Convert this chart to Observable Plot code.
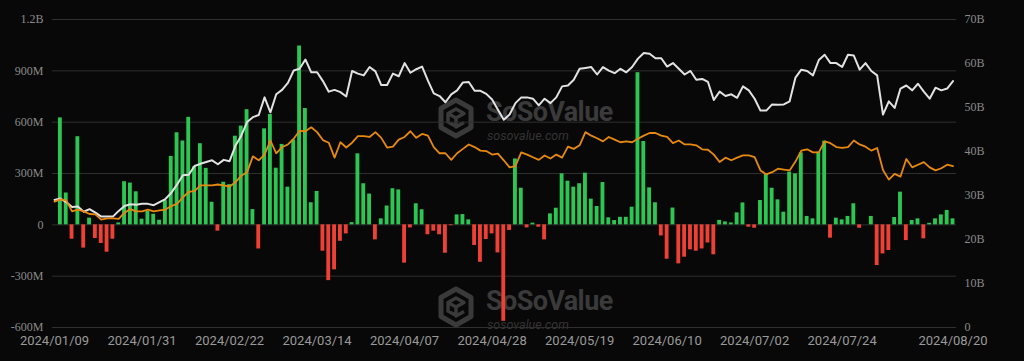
<!DOCTYPE html>
<html>
<head>
<meta charset="utf-8">
<script src="https://cdn.jsdelivr.net/npm/d3@7"></script>
<script src="https://cdn.jsdelivr.net/npm/@observablehq/plot@0.6"></script>
<style>
  html, body { margin: 0; padding: 0; background: #080808; }
  #wrap { position: relative; width: 1024px; height: 361px; overflow: hidden; background: #080808; }
  #chart { position: absolute; left: 0; top: 0; z-index: 1; }
  .wm { position: absolute; z-index: 0; font-family: Roboto, "Open Sans", sans-serif; }
  .wm .name { position: absolute; left: 49px; top: -1.5px; font-size: 27px; line-height: 24px; height: 24px; font-weight: 700; letter-spacing: -0.6px; color: #3a3a3a; white-space: nowrap; }
  .wm .url { position: absolute; left: 50px; top: 27.5px; font-size: 12.5px; line-height: 13px; height: 13px; font-style: italic; color: #343434; white-space: nowrap; }
</style>
</head>
<body>
<div id="wrap">
  <div class="wm" style="left:437px; top:101px;">
    <svg width="38" height="42" viewBox="0 0 38 42" style="position:absolute;left:0;top:-4px">
      <path d="M19 3 L34 11.5 L34 30.5 L19 39 L4 30.5 L4 11.5 Z" fill="none" stroke="#3a3a3a" stroke-width="5" stroke-linejoin="round"/>
      <path d="M19 12 L27 16.5 L19 21 L11 16.5 Z M11 16.5 L11 25 L19 29.5 M27 25.5 L19 30 L19 21" fill="none" stroke="#3a3a3a" stroke-width="3.5" stroke-linejoin="round"/>
    </svg>
    <div class="name">SoSoValue</div>
    <div class="url">sosovalue.com</div>
  </div>
  <div class="wm" style="left:437px; top:290px;">
    <svg width="38" height="42" viewBox="0 0 38 42" style="position:absolute;left:0;top:-4px">
      <path d="M19 3 L34 11.5 L34 30.5 L19 39 L4 30.5 L4 11.5 Z" fill="none" stroke="#3a3a3a" stroke-width="5" stroke-linejoin="round"/>
      <path d="M19 12 L27 16.5 L19 21 L11 16.5 Z M11 16.5 L11 25 L19 29.5 M27 25.5 L19 30 L19 21" fill="none" stroke="#3a3a3a" stroke-width="3.5" stroke-linejoin="round"/>
    </svg>
    <div class="name">SoSoValue</div>
    <div class="url">sosovalue.com</div>
  </div>
  <div id="chart"></div>
</div>
<script>
// Daily total net inflow (million USD); index 0 has no bar
const netInflowM = [null,
  625,186,-84,515,-136,39,-80,-109,-160,-84,
  11,252,244,193,33,78,62,27,142,400,
  538,490,628,340,474,330,132,-37,249,235,
  518,577,673,89,-141,561,645,331,470,220,
  495,1045,680,129,195,-154,-326,-263,-96,-53,
  13,415,240,180,-88,35,110,211,204,-224,
  -18,123,88,-58,-37,-58,-166,-5,58,60,
  29,-121,-219,-86,-53,-164,-564,-33,385,214,
  -18,10,-14,-88,64,97,298,255,220,240,
  302,150,107,247,41,25,44,44,103,889,
  487,216,129,-65,-201,98,-228,-189,-146,-154,
  -141,-106,-175,26,17,11,70,128,-14,-20,
  142,298,214,146,74,308,298,421,49,35,
  425,489,-78,39,29,49,123,-20,0,49,
  -238,-170,-150,43,191,-92,25,35,-82,9,
  35,58,84,35];

// Total net assets (billion USD, right axis)
const totalNetAssetsB = [
  29.0,29.3,28.5,27.4,27.5,26.3,26.9,26.1,25.2,25.2,
  25.2,26.5,27.6,28.0,27.9,28.1,28.1,27.8,28.5,29.2,
  30.6,32.5,34.6,34.7,36.7,37.2,37.6,38.0,37.1,38.1,
  37.8,41.3,43.6,46.7,47.8,48.3,52.3,48.9,53.0,54.0,
  55.6,58.4,58.8,60.9,58.0,58.0,56.0,53.6,54.0,53.5,
  52.5,58.3,57.7,57.3,59.2,58.2,55.1,55.1,57.7,57.1,
  60.1,57.9,58.7,59.3,56.1,53.2,52.6,51.2,53.0,53.9,
  55.7,55.8,53.8,53.8,53.1,51.8,49.5,47.2,48.4,51.0,
  52.3,52.3,52.0,50.5,52.0,51.0,52.3,54.8,55.0,56.3,
  58.8,59.0,59.2,57.5,59.2,58.4,57.8,58.8,58.0,59.2,
  61.1,62.4,62.2,61.2,61.2,59.3,60.1,58.8,57.5,58.3,
  56.3,56.5,55.8,51.7,53.6,52.6,53.0,52.2,54.8,53.9,
  52.0,49.3,49.3,50.7,50.6,50.7,51.4,56.8,58.6,58.3,
  57.3,60.8,62.0,60.1,60.1,59.2,62.0,61.8,58.6,60.1,
  58.3,57.3,48.4,51.4,49.9,54.3,55.0,53.9,55.4,53.6,
  52.0,54.5,53.9,54.3,56.0];

// Orange line (right-axis units, billion)
const orangeLineB = [
  28.6,29.1,28.9,26.4,26.8,26.4,25.8,25.7,24.5,24.8,
  24.8,24.7,26.1,26.9,26.4,26.4,26.8,26.4,26.6,26.8,
  27.6,28.1,29.6,30.8,31.0,32.3,32.3,32.3,32.5,32.3,
  32.0,33.0,34.5,35.3,38.9,38.0,39.3,42.5,39.6,41.0,
  41.6,42.9,44.7,44.6,45.5,44.4,42.6,42.0,38.6,42.1,
  40.9,42.0,43.5,43.5,43.3,44.4,43.1,40.9,41.1,42.7,
  43.3,44.6,43.1,44.0,43.6,41.0,39.6,39.6,38.1,39.6,
  40.6,41.6,41.0,40.2,40.1,39.3,39.5,38.0,36.4,36.7,
  39.8,39.3,38.7,38.1,39.1,38.4,39.3,38.6,41.1,40.6,
  41.4,44.4,43.6,43.0,42.3,43.3,42.7,42.1,42.3,42.1,
  42.9,43.6,44.2,44.2,43.6,43.3,41.9,42.5,41.6,41.6,
  41.4,40.5,40.4,39.3,37.6,38.6,38.0,38.6,39.1,39.1,
  38.7,35.7,34.8,35.3,36.1,35.9,35.7,37.7,40.2,40.5,
  39.8,39.8,42.3,41.9,41.0,40.8,41.0,42.5,41.6,41.1,
  40.2,40.8,35.8,33.6,34.9,34.3,38.3,36.4,37.0,37.6,
  36.4,35.7,36.2,37.0,36.7];

const xTickIndex = [0, 15, 30, 45, 60, 75, 90, 105, 120, 135, 154];
const xTickLabels = ["2024/01/09","2024/01/31","2024/02/22","2024/03/14","2024/04/07","2024/04/28","2024/05/19","2024/06/10","2024/07/02","2024/07/24","2024/08/20"];
const leftTicks = [-600e6, -300e6, 0, 300e6, 600e6, 900e6, 1.2e9];
const leftTickLabels = ["-600M","-300M","0","300M","600M","900M","1.2B"];
const rightTicksB = [0, 10, 20, 30, 40, 50, 60, 70];
const rightTickLabels = ["0","10B","20B","30B","40B","50B","60B","70B"];

// map right-axis (0..70B) onto left-axis domain (-600M..1.2B)
const LMIN = -600e6, LMAX = 1.2e9, RMAX = 70;
const toLeft = b => LMIN + (b / RMAX) * (LMAX - LMIN);

const rows = totalNetAssetsB.map((v, i) => ({
  i,
  flow: netInflowM[i] == null ? null : netInflowM[i] * 1e6,
  ta: toLeft(v),
  org: toLeft(orangeLineB[i])
}));
const pos = rows.filter(d => d.flow != null && d.flow > 0);
const neg = rows.filter(d => d.flow != null && d.flow < 0);
const halfW = 0.33;

const chart = Plot.plot({
  width: 1024,
  height: 361,
  marginLeft: 52,
  marginRight: 68,
  marginTop: 19,
  marginBottom: 34,
  style: { background: "transparent", color: "#8a8a8a", overflow: "visible" },
  x: { type: "linear", domain: [-0.35, 154.6], axis: null, label: null },
  y: { domain: [LMIN, LMAX], axis: null, label: null },
  marks: [
    Plot.gridY(leftTicks, { stroke: "#2f2f2f", strokeOpacity: 1, strokeWidth: 1 }),
    Plot.rectY(pos, { x1: d => d.i - halfW, x2: d => d.i + halfW, y1: 0, y2: "flow", fill: "#2ec653" }),
    Plot.rectY(neg, { x1: d => d.i - halfW, x2: d => d.i + halfW, y1: 0, y2: "flow", fill: "#ee4034" }),
    Plot.line(rows, { x: "i", y: "ta", stroke: "#e2e2e2", strokeWidth: 2 }),
    Plot.line(rows, { x: "i", y: "org", stroke: "#e8890f", strokeWidth: 1.8 }),
    Plot.axisY(leftTicks, {
      anchor: "left", tickSize: 0, tickPadding: 9, label: null,
      tickFormat: v => leftTickLabels[leftTicks.indexOf(v)],
      fontFamily: "Liberation Serif", fontSize: 12, fill: "#8a8a8a"
    }),
    Plot.axisY(rightTicksB.map(toLeft), {
      anchor: "right", tickSize: 0, tickPadding: 8, label: null,
      tickFormat: v => rightTickLabels[rightTicksB.indexOf(Math.round((v - LMIN) / (LMAX - LMIN) * RMAX))],
      fontFamily: "Liberation Serif", fontSize: 12, fill: "#8a8a8a"
    }),
    Plot.axisX(xTickIndex, {
      anchor: "bottom", tickSize: 0, tickPadding: 8, label: null,
      tickFormat: v => xTickLabels[xTickIndex.indexOf(v)],
      fontFamily: "Roboto", fontSize: 13, fill: "#9a9a9a"
    })
  ]
});
document.getElementById("chart").appendChild(chart);
</script>
</body>
</html>
